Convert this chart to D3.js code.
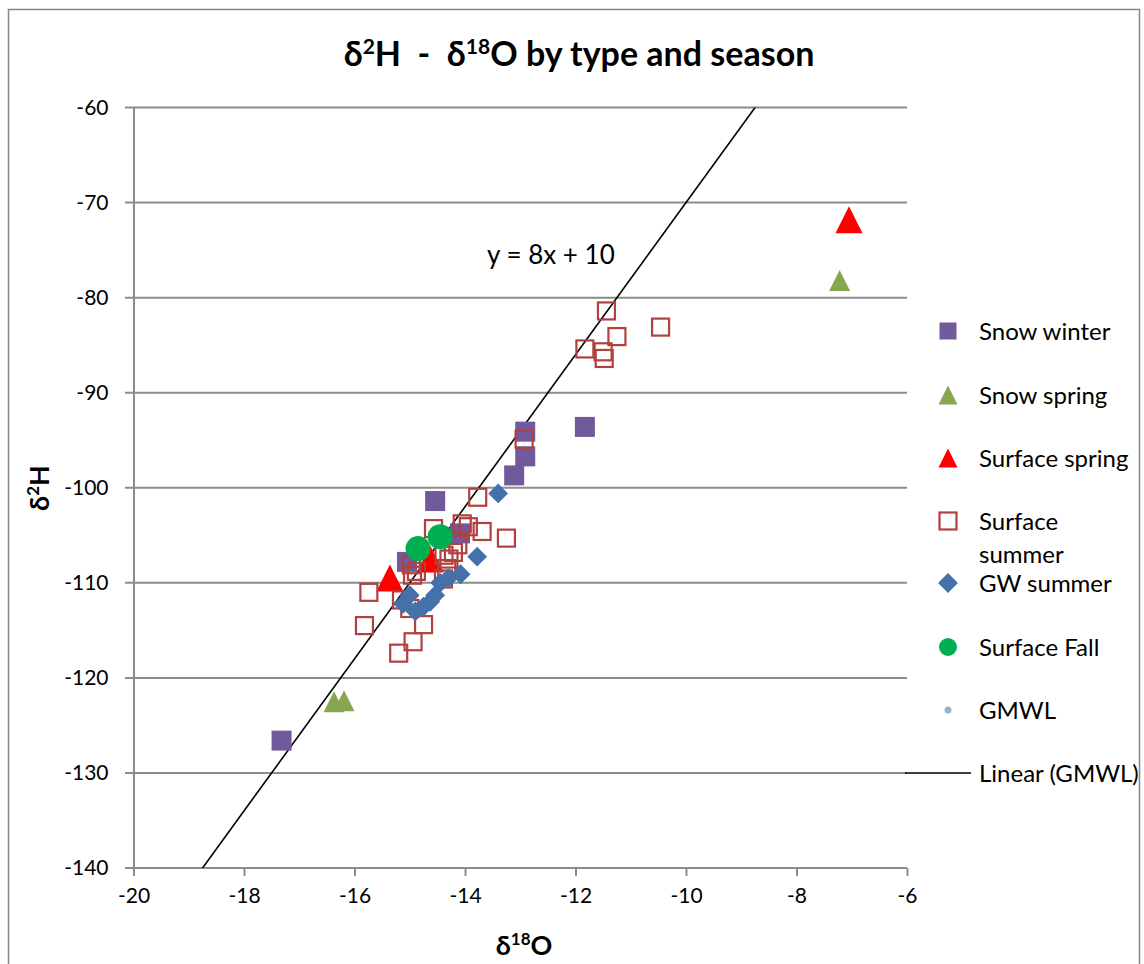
<!DOCTYPE html>
<html>
<head>
<meta charset="utf-8">
<script src="https://cdn.jsdelivr.net/npm/d3@7"></script>
<style>
  body { margin: 0; background: #fff; }
  text { font-family: Lato, "Open Sans", "Liberation Sans", sans-serif; fill: #000; }
</style>
</head>
<body>
<div id="chart"></div>
<script>
// values: [d18O, d2H]
var snowWinter = [[-17.32,-126.6],[-14.54,-101.4],[-14.09,-104.8],[-15.05,-107.8],[-12.91,-94.1],[-12.91,-96.7],[-13.11,-98.7],[-11.83,-93.6]];
var snowSpring = [[-7.22,-78.2],[-16.37,-122.5],[-16.19,-122.4]];
var surfaceSpring = [[-7.05,-71.8],[-15.36,-109.5],[-14.63,-107.5]];
var surfaceSummer = [[-11.44,-81.4],[-10.46,-83.1],[-11.25,-84.1],[-11.83,-85.4],[-11.50,-85.7],[-11.48,-86.4],
  [-12.93,-94.9],[-13.77,-101.0],[-14.57,-104.3],[-14.05,-103.8],[-13.94,-104.1],[-13.69,-104.6],[-13.25,-105.3],
  [-14.13,-106.0],[-14.21,-106.8],[-14.38,-107.1],[-14.29,-107.5],[-14.97,-108.1],[-14.95,-109.2],[-14.39,-109.6],
  [-14.33,-108.5],[-15.74,-111.0],[-15.15,-111.8],[-15.0,-112.7],[-15.82,-114.5],[-14.75,-114.4],[-14.94,-116.2],
  [-15.20,-117.4],[-14.88,-108.8]];
var gwSummer = [[-13.40,-100.6],[-13.78,-107.25],[-14.08,-109.1],[-14.30,-109.5],[-14.45,-110.0],[-14.54,-111.3],
  [-14.63,-112.0],[-15.0,-111.3],[-15.12,-112.2],[-14.9,-113.0],[-14.75,-112.5]];
var surfaceFall = [[-14.45,-105.15],[-14.85,-106.4]];
var gmwl = [[-22,-166],[-4,-22]];   // y = 8x + 10, lies outside the axis box

var xTicks = [-20,-18,-16,-14,-12,-10,-8,-6];
var yTicks = [-60,-70,-80,-90,-100,-110,-120,-130,-140];

var W = 1144, H = 964;
var svg = d3.select('#chart').append('svg')
  .attr('width', W).attr('height', H);

// chart frame
svg.append('rect')
  .attr('x', 8.5).attr('y', 9.5).attr('width', 1131).attr('height', 1000)
  .attr('fill', 'none').attr('stroke', '#868686').attr('stroke-width', 1.5);

var xScale = d3.scaleLinear().domain([-20, -6]).range([133.5, 907]);
var yScale = d3.scaleLinear().domain([-140, -60]).range([868, 107.5]);

// gridlines
svg.append('g').selectAll('line')
  .data(yTicks).enter().append('line')
    .attr('x1', 125).attr('x2', 907)
    .attr('y1', function(d){ return yScale(d) })
    .attr('y2', function(d){ return yScale(d) })
    .attr('stroke', '#8c8c8c').attr('stroke-width', 2);

var plain = function(d){ return String(d) };  // hyphen, not unicode minus

var yAxis = d3.axisLeft(yScale).tickValues(yTicks).tickSize(0).tickPadding(25).tickFormat(plain);
var yGuide = svg.append('g').attr('transform', 'translate(133.5,0)');
yAxis(yGuide);
yGuide.select('.domain').attr('stroke', '#8c8c8c').attr('stroke-width', 2);
yGuide.selectAll('text').style('font-size', '21px')
  .style('font-family', 'Lato, "Open Sans", sans-serif');

var xAxis = d3.axisBottom(xScale).tickValues(xTicks).tickSize(8).tickPadding(12).tickFormat(plain);
var xGuide = svg.append('g').attr('transform', 'translate(0,868)');
xAxis(xGuide);
xGuide.select('.domain').attr('stroke', '#8c8c8c').attr('stroke-width', 2).attr('d', 'M133.5,0H907');
xGuide.selectAll('.tick line').attr('stroke', '#8c8c8c').attr('stroke-width', 2);
xGuide.selectAll('text').style('font-size', '21px')
  .style('font-family', 'Lato, "Open Sans", sans-serif');

// GMWL trend line, clipped to the plot box
svg.append('clipPath').attr('id', 'plotclip')
  .append('rect').attr('x', 133.5).attr('y', 107.5).attr('width', 907 - 133.5).attr('height', 868 - 107.5);

var line = d3.line()
  .x(function(d){ return xScale(d[0]) })
  .y(function(d){ return yScale(d[1]) });

svg.append('path')
  .datum(gmwl)
  .attr('d', line)
  .attr('clip-path', 'url(#plotclip)')
  .attr('fill', 'none').attr('stroke', '#000').attr('stroke-width', 1.6);

var series = [
  { name: 'Snow winter',    data: snowWinter,    shape: 'square',  size: 20, fill: '#715a9b', stroke: 'none' },
  { name: 'Snow spring',    data: snowSpring,    shape: 'tri',     size: 21, fill: '#88a64f', stroke: 'none' },
  { name: 'Surface spring', data: surfaceSpring, shape: 'tri',     size: 27, fill: '#ff0000', stroke: 'none' },
  { name: 'Surface summer', data: surfaceSummer, shape: 'square',  size: 17, fill: 'none',    stroke: '#b1413f' },
  { name: 'GW summer',      data: gwSummer,      shape: 'diamond', size: 14, fill: '#4471aa', stroke: 'none' },
  { name: 'Surface Fall',   data: surfaceFall,   shape: 'circle',  size: 25, fill: '#00b050', stroke: 'none' }
];

function marker(g, s, scale) {
  var k = scale || 1;
  var sz = s.size * k;
  if (s.shape === 'square') {
    g.append('rect').attr('x', -sz/2).attr('y', -sz/2).attr('width', sz).attr('height', sz)
      .attr('fill', s.fill).attr('stroke', s.stroke).attr('stroke-width', 2.2);
  } else if (s.shape === 'tri') {
    g.append('path').attr('d', 'M0,' + (-sz/2) + 'L' + (sz/2) + ',' + (sz/2) + 'L' + (-sz/2) + ',' + (sz/2) + 'Z')
      .attr('fill', s.fill);
  } else if (s.shape === 'diamond') {
    g.append('rect').attr('x', -sz/2).attr('y', -sz/2).attr('width', sz).attr('height', sz)
      .attr('transform', 'rotate(45)').attr('fill', s.fill);
  } else if (s.shape === 'circle') {
    g.append('circle').attr('r', sz/2).attr('fill', s.fill);
  }
}

series.forEach(function(s){
  svg.append('g').selectAll('g')
    .data(s.data).enter().append('g')
      .attr('transform', function(d){ return 'translate(' + xScale(d[0]) + ',' + yScale(d[1]) + ')' })
      .each(function(){ marker(d3.select(this), s) });
});

// equation label
svg.append('text').attr('x', 487).attr('y', 264)
  .style('font-size', '26px').text('y = 8x + 10');

// title
var title = svg.append('text').attr('x', 579).attr('y', 66).attr('text-anchor', 'middle')
  .attr('xml:space', 'preserve').style('white-space', 'pre')
  .style('font-size', '34px').style('font-weight', 'bold');
title.append('tspan').text('δ');
title.append('tspan').attr('baseline-shift', 'super').style('font-size', '21px').text('2');
title.append('tspan').text('H  -  δ');
title.append('tspan').attr('baseline-shift', 'super').style('font-size', '21px').text('18');
title.append('tspan').text('O by type and season');

// axis titles
var xt = svg.append('text').attr('x', 524).attr('y', 955).attr('text-anchor', 'middle')
  .style('font-size', '27px').style('font-weight', 'bold');
xt.append('tspan').text('δ');
xt.append('tspan').attr('baseline-shift', 'super').style('font-size', '17px').text('18');
xt.append('tspan').text('O');

var yt = svg.append('text').attr('transform', 'translate(49,488) rotate(-90)').attr('text-anchor', 'middle')
  .style('font-size', '27px').style('font-weight', 'bold');
yt.append('tspan').text('δ');
yt.append('tspan').attr('baseline-shift', 'super').style('font-size', '17px').text('2');
yt.append('tspan').text('H');

// legend
var legendY = [331, 395, 458, 521, 583, 647];
var legend = svg.append('g');
series.forEach(function(s, i){
  var g = legend.append('g').attr('transform', 'translate(948,' + legendY[i] + ')');
  var k = s.shape === 'circle' ? 0.72 : (s.shape === 'tri' ? 19 / s.size : (s.shape === 'square' ? 17 / s.size : 1));
  marker(g, s, k);
  var t = legend.append('text').attr('x', 979).attr('y', legendY[i] + 9).style('font-size', '24px');
  if (s.name === 'Surface summer') {
    t.append('tspan').attr('x', 979).text('Surface');
    t.append('tspan').attr('x', 979).attr('dy', 33).text('summer');
  } else {
    t.text(s.name);
  }
});
legend.append('circle').attr('cx', 948).attr('cy', 710).attr('r', 3.5).attr('fill', '#95b3d7');
legend.append('text').attr('x', 979).attr('y', 719).style('font-size', '24px').text('GMWL');
legend.append('line').attr('x1', 905).attr('x2', 971).attr('y1', 773).attr('y2', 773)
  .attr('stroke', '#000').attr('stroke-width', 1.6);
legend.append('text').attr('x', 979).attr('y', 782).style('font-size', '24px').text('Linear (GMWL)');
</script>
</body>
</html>
